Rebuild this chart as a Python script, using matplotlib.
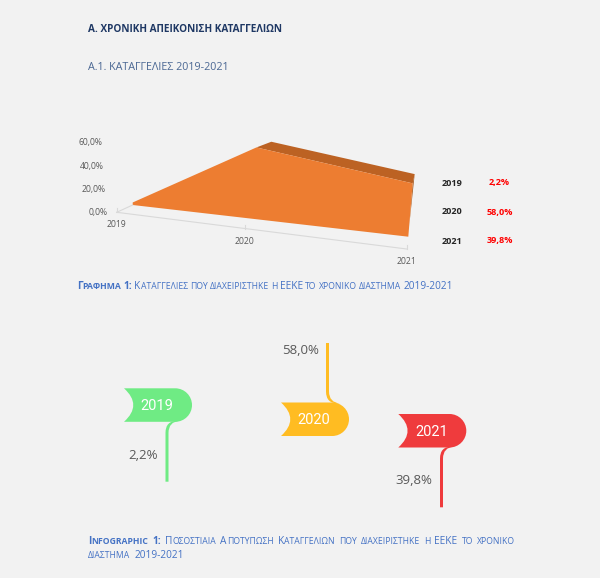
import matplotlib
matplotlib.use("Agg")
import matplotlib.pyplot as plt
from matplotlib.patches import PathPatch, Polygon
from matplotlib.path import Path

# data
years = ["2019", "2020", "2021"]
values = [2.2, 58.0, 39.8]
y_ticks = [0, 20, 40, 60]
flag_colors = ["#6FEB84", "#FFBC22", "#EF3B3D"]

BG = "#F2F2F2"
BLUE = "#4472C4"
FONT = ["Open Sans", "DejaVu Sans"]

plt.rcParams["font.family"] = FONT

fig = plt.figure(figsize=(6, 5.78), dpi=100, facecolor=BG)
ax = fig.add_axes([0, 0, 1, 1])
ax.set_xlim(0, 600)
ax.set_ylim(578, 0)
ax.axis("off")


def pct(v):
    return f"{v:.1f}%".replace(".", ",")


# fake perspective of the excel 3d area chart
def persp(c):
    t = c / 2
    return t / (t + 1.262 * (1 - t))


def front(c, v):
    f = persp(c)
    x = 132.7 + f * 275.6 + v * 0.11 * f ** 1.5
    y = 205.0 + f * 31.7 - v * (1.15 + 0.19 * f)
    return x, y


def floor(c):
    f = persp(c)
    return 116.7 + f * 290, 212.3 + f * 36.7


def back(c, v):
    f = persp(c)
    x, y = front(c, v)
    return x + 13.3 * (1 - f) * 2.26 * f * 2 + 2 * f ** 4, y - (5.7 + (f - 0.442) * 6.4) * min(f / 0.442, 1)


cats = range(len(values))

# floor line and ticks
p0, p2 = floor(0), floor(2)
ax.plot([p0[0], p2[0]], [p0[1], p2[1]], color="#D9D9D9", lw=0.8)
ax.plot([p0[0], front(0, 0)[0]], [p0[1], front(0, 0)[1]], color="#D9D9D9", lw=0.8)
for c in cats:
    x, y = floor(c)
    ax.plot([x, x], [y, y - 4], color="#D9D9D9", lw=0.8)

# top band + side face first, front on top
band = [front(1, values[1]), back(1, values[1]), back(2, values[2]), front(2, values[2])]
ax.add_patch(Polygon(band, closed=True, fc="#BC6223", ec="none"))
side = [front(2, values[2]), back(2, values[2]), front(2, 8), front(2, 0)]
ax.add_patch(Polygon(side, closed=True, fc="#A85A1E", ec="none"))
face = [front(c, values[c]) for c in cats] + [front(c, 0) for c in reversed(cats)]
ax.add_patch(Polygon(face, closed=True, fc="#ED7D31", ec="none"))

for v in y_ticks:
    ax.text(108 - v * 0.1, 213 - v * 1.167, f"{v:.1f}%".replace(".", ","), ha="right",
            va="center", fontsize=6.2, color="#595959")
for c, lab in zip(cats, years):
    x, y = floor(c)
    ax.text(x, y + 12.5, lab, ha="center", va="center", fontsize=6.2, color="#595959")

# side table
for yr, v, y in zip(years, values, [183, 212, 241]):
    ax.text(452, y, yr, ha="center", va="center", fontsize=6.6, fontweight="bold", color="#262626")
    ax.text(499.5, y, pct(v), ha="center", va="center", fontsize=6.6, fontweight="bold", color="#FF0000")


def flag(x0, y0, color, up=False, stem_end=480, sx=41.5, w=68, h=33.5):
    s = -1 if up else 1
    yb = y0 + h if not up else y0          # edge the stem leaves from
    yt = y0 if not up else y0 + h
    x1 = x0 + w
    r = h * 0.5
    k = 0.55 * r
    ym = y0 + h / 2
    verts = [(x0, yt), (x1 - r, yt),
             (x1 - r + k, yt), (x1, ym - s * k), (x1, ym),
             (x1, ym + s * k), (x1 - r + k, yb), (x1 - r, yb),
             (x0, yb), (x0 + 18.6, ym), (x0, yt), (x0, yt)]
    codes = [Path.MOVETO, Path.LINETO,
             Path.CURVE4, Path.CURVE4, Path.CURVE4,
             Path.CURVE4, Path.CURVE4, Path.CURVE4,
             Path.LINETO, Path.CURVE3, Path.CURVE3, Path.CLOSEPOLY]
    ax.add_patch(PathPatch(Path(verts, codes), fc=color, ec="none"))
    sl = x0 + sx
    sr = sl + 3
    vs = [(sr + 11, yb - s), (sr, yb), (sr, yb + s * 11), (sr, stem_end), (sl, stem_end),
          (sl, yb + s * 11), (sl, yb - s), (sl + 12, yb - s), (sr + 11, yb - s)]
    cs = [Path.MOVETO, Path.CURVE3, Path.CURVE3, Path.LINETO, Path.LINETO,
          Path.LINETO, Path.CURVE3, Path.CURVE3, Path.CLOSEPOLY]
    ax.add_patch(PathPatch(Path(vs, cs), fc=color, ec="none"))


flag_pos = [(124, 388.3, False, 481.7), (281, 402.5, True, 343), (398.3, 414, False, 507.3)]
stem_off = [41.5, 45, 41.7]
label_pos = [(143.3, 455.7), (300.7, 350.7), (414.3, 481)]
for yr, v, col, (fx, fy, up, end), sx, (lx, ly) in zip(years, values, flag_colors, flag_pos, stem_off, label_pos):
    flag(fx, fy, col, up, end, sx)
    ax.text(fx + 33, fy + 18, yr, ha="center", va="center", fontsize=10.5, color="white", family="Roboto")
    ax.text(lx, ly, pct(v), ha="center", va="center", fontsize=9.5, color="#595959")

# headings
ax.text(88, 29, "Α. ΧΡΟΝΙΚΗ ΑΠΕΙΚΟΝΙΣΗ ΚΑΤΑΓΓΕΛΙΩΝ", va="center", fontsize=7.2,
        fontweight="bold", color="#1F3864")
ax.text(88, 67, "Α.1. ΚΑΤΑΓΓΕΛΙΕΣ 2019-2021", va="center", fontsize=7.75, color="#4A6793")

renderer = fig.canvas.get_renderer()


# small caps text, stretched between x0 and x1
def smallcaps(words, x0, x1, y, size=7.3, n_bold=0):
    pieces = []
    for i, w in enumerate(words):
        runs = []
        for ch in w:
            low = ch.islower()
            if runs and runs[-1][1] == low:
                runs[-1][0] += ch
            else:
                runs.append([ch, low])
        pieces.append((runs, i < n_bold))

    def measure(runs, bold):
        total = 0
        for txt, low in runs:
            t = ax.text(0, 0, txt.upper(), fontsize=size * (0.85 if low else 1),
                        fontweight="bold" if bold else "normal")
            total += t.get_window_extent(renderer).width
            t.remove()
        return total

    widths = [measure(r, b) for r, b in pieces]
    gap = (x1 - x0 - sum(widths)) / (len(words) - 1)
    x = x0
    for (runs, bold), wid in zip(pieces, widths):
        for txt, low in runs:
            t = ax.text(x, y, txt.upper(), fontsize=size * (0.85 if low else 1), color=BLUE,
                        fontweight="bold" if bold else "normal", va="baseline")
            x += t.get_window_extent(renderer).width
        x += gap


smallcaps("Γραφημα 1: Καταγγελιες που διαχειριστηκε η ΕΕΚΕ το χρονικο διαστημα 2019-2021".split(),
          76.7, 452.7, 289, n_bold=2)
smallcaps("Infographic 1: Ποσοστιαια Αποτυπωση Καταγγελιων που διαχειριστηκε η ΕΕΚΕ το χρονικο".split(),
          88, 515, 544, n_bold=2)
smallcaps("διαστημα 2019-2021".split(), 88, 184, 558.5)

fig.savefig("out.png", dpi=100, facecolor=BG)
